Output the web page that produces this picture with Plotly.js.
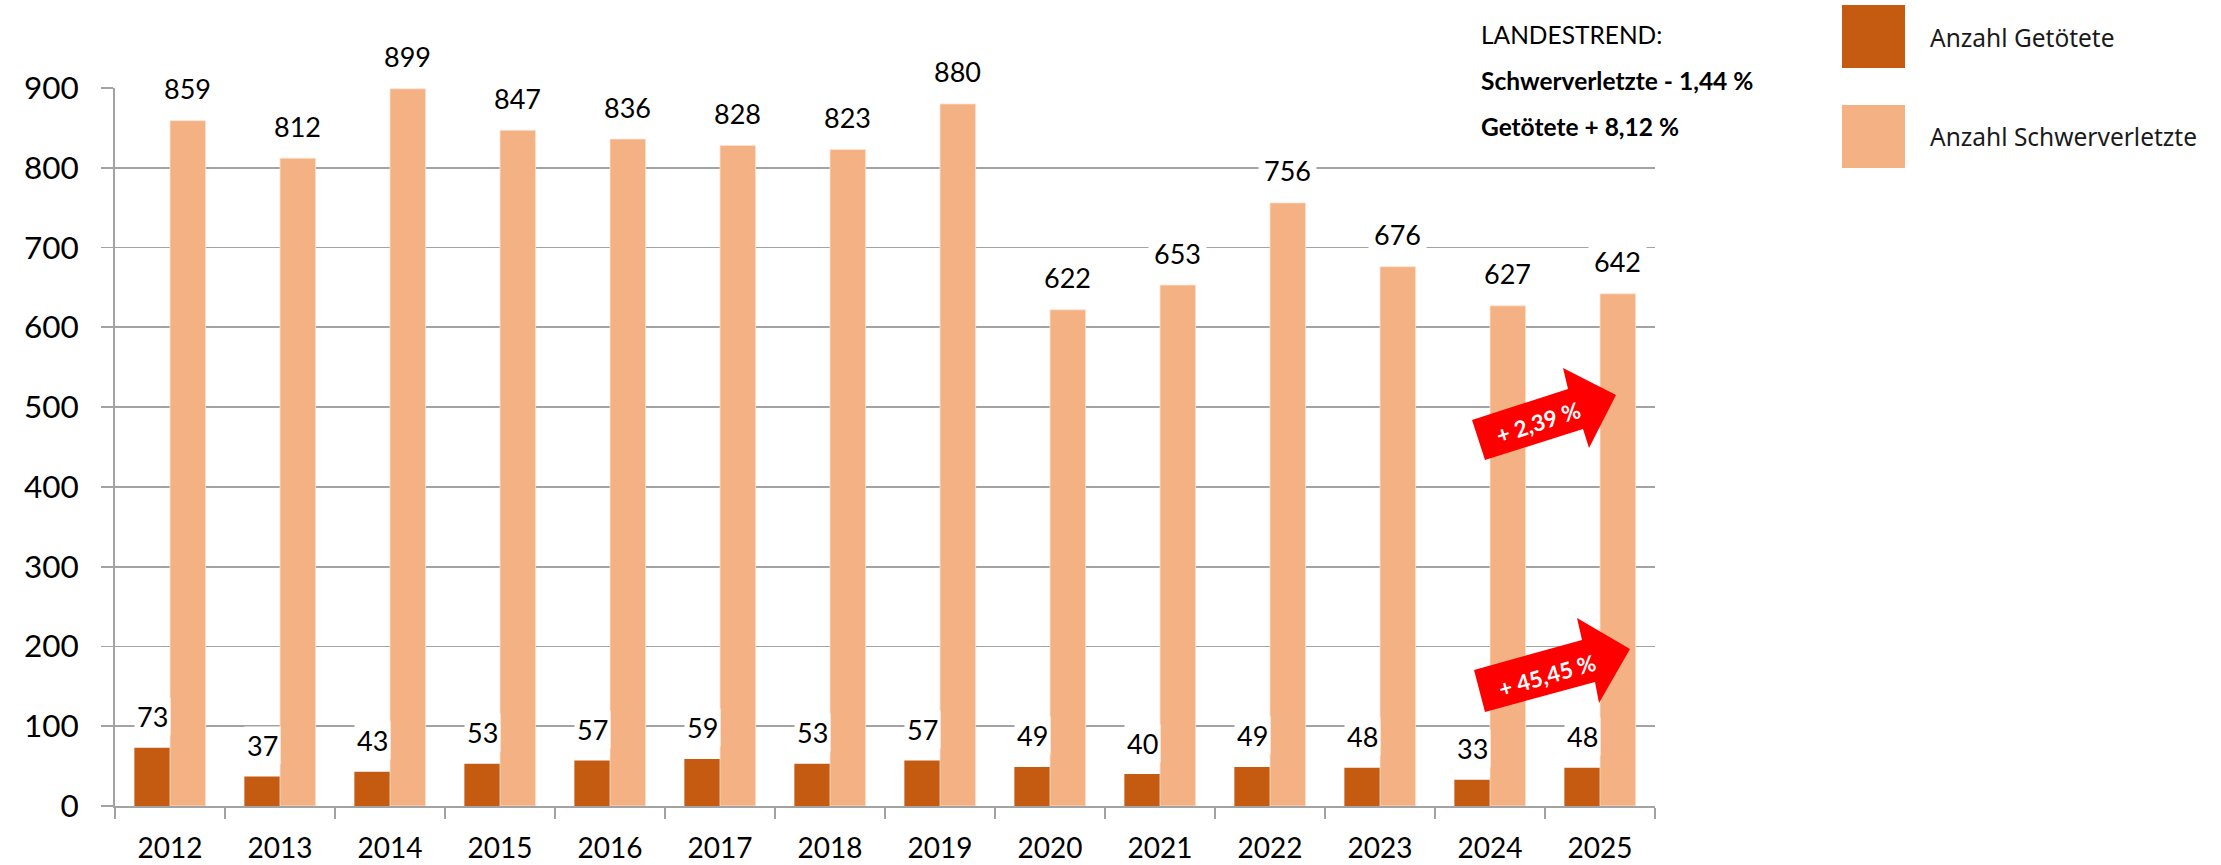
<!DOCTYPE html>
<html>
<head>
<meta charset="utf-8">
<script src="https://cdn.plot.ly/plotly-3.0.1.min.js"></script>
<style>html,body{margin:0;padding:0;background:#fff;}</style>
</head>
<body>
<div id="chart" style="width:2221px;height:865px;"></div>
<script>
// ---- data ----
const years = ['2012','2013','2014','2015','2016','2017','2018','2019','2020','2021','2022','2023','2024','2025'];
const getoetete = [73,37,43,53,57,59,53,57,49,40,49,48,33,48];
const schwerverletzte = [859,812,899,847,836,828,823,880,622,653,756,676,627,642];
const seriesNames = ['Anzahl Getötete','Anzahl Schwerverletzte'];
const trendLines = ['LANDESTREND:','<b>Schwerverletzte - 1,44 %</b>','<b>Getötete + 8,12 %</b>'];
const arrowTexts = ['<b>+ 2,39 %</b>','<b>+ 45,45 %</b>'];
const yTicks = [0,100,200,300,400,500,600,700,800,900];

// ---- style ----
const W = 2221, H = 865;
const M = {l:115, r:566, t:88, b:59};
const PW = W - M.l - M.r, PH = H - M.t - M.b;
const cDark = '#c55a11', cLight = '#f4b183', cGrid = '#a3a3a3';
const px = x => (x - M.l) / PW;
const py = y => (H - M.b - y) / PH;
function pathFrom(pts){ return 'M' + pts.map(p => px(p[0]) + ',' + py(p[1])).join(' L') + ' Z'; }

const traces = [
  {type:'bar', x:years, y:getoetete, name:seriesNames[0], marker:{color:cDark}, hoverinfo:'x+y'},
  {type:'bar', x:years, y:schwerverletzte, name:seriesNames[1], marker:{color:cLight, line:{color:'#fbe3d2', width:0.8}}, hoverinfo:'x+y'}
];

const bargap = 0.352;
const barPx = PW / years.length * (1 - bargap) / 2;
const labelFont = {family:'Lato, sans-serif', size:27, color:'#000'};
const annotations = [];
years.forEach((yr, i) => {
  // category axis: position by category index
  annotations.push({x:i, y:getoetete[i], xref:'x', yref:'y', text:String(getoetete[i]), showarrow:false,
    xshift:-barPx/2, yshift:31, yanchor:'middle', bgcolor:'#fff', borderpad:2, font:labelFont});
  annotations.push({x:i, y:schwerverletzte[i], xref:'x', yref:'y', text:String(schwerverletzte[i]), showarrow:false,
    xshift:barPx/2, yshift:32, yanchor:'middle', bgcolor:'#fff', borderpad:5, font:labelFont});
});

// Landestrend box
const trendY = [34, 81, 127];
trendLines.forEach((t, i) => {
  annotations.push({xref:'paper', yref:'paper', x:px(1479), y:py(trendY[i]), xanchor:'left', yanchor:'middle',
    text:t, showarrow:false, font:{family:'Lato, sans-serif', size:24.5, color:'#000'}});
});

// legend
const legY = [38, 137];
seriesNames.forEach((n, i) => {
  annotations.push({xref:'paper', yref:'paper', x:px(1928), y:py(legY[i]), xanchor:'left', yanchor:'middle',
    text:n, showarrow:false, font:{family:'Noto Sans, sans-serif', size:24.5, color:'#1a1a1a'}});
});

// arrow texts
const arrowTextPos = [[1538, 423, -18], [1547, 675, -16]];
arrowTexts.forEach((t, i) => {
  annotations.push({xref:'paper', yref:'paper', x:px(arrowTextPos[i][0]), y:py(arrowTextPos[i][1]),
    xanchor:'center', yanchor:'middle', textangle:arrowTextPos[i][2], text:t, showarrow:false,
    font:{family:'Lato, sans-serif', size:22.5, color:'#fff'}});
});

const arrow1 = [[1472,420],[1568,389],[1563,368],[1616,395],[1589,448],[1583,429],[1485,460]];
const arrow2 = [[1474,670],[1582,640],[1577,618],[1630,649],[1599,703],[1595,682],[1485,712]];

const shapes = [
  {type:'rect', xref:'paper', yref:'paper', x0:px(1458), x1:px(1760), y0:py(80), y1:py(97), fillcolor:'#fff', line:{width:0}, layer:'above'},
  {type:'path', xref:'paper', yref:'paper', path:pathFrom(arrow1), fillcolor:'#ff0000', line:{width:0}, layer:'above'},
  {type:'path', xref:'paper', yref:'paper', path:pathFrom(arrow2), fillcolor:'#ff0000', line:{width:0}, layer:'above'},
  {type:'rect', xref:'paper', yref:'paper', x0:px(1842), x1:px(1905), y0:py(68), y1:py(5), fillcolor:cDark, line:{width:0}},
  {type:'rect', xref:'paper', yref:'paper', x0:px(1842), x1:px(1905), y0:py(168), y1:py(105), fillcolor:cLight, line:{width:0}}
];

const layout = {
  width:W, height:H,
  margin:{l:M.l, r:M.r, t:M.t, b:M.b, autoexpand:false},
  paper_bgcolor:'#fff', plot_bgcolor:'#fff',
  barmode:'group', bargap:bargap, bargroupgap:0,
  showlegend:false,
  xaxis:{type:'category', range:[-0.5, years.length - 0.5], autorange:false, tickson:'boundaries', ticks:'outside', ticklen:11, tickwidth:1.8, tickcolor:cGrid,
    showline:true, linecolor:cGrid, linewidth:1.8, showgrid:false, zeroline:false,
    tickfont:{family:'Lato, sans-serif', size:28, color:'#000'}, ticklabelstandoff:17, fixedrange:true},
  yaxis:{range:[0,900], autorange:false, tickmode:'array', tickvals:yTicks, ticktext:yTicks.map(String), ticks:'outside', ticklen:12, tickwidth:1.8, tickcolor:cGrid,
    showline:true, linecolor:cGrid, linewidth:1.8, showgrid:true, gridcolor:cGrid, gridwidth:1.8, zeroline:false,
    tickfont:{family:'Lato, sans-serif', size:31.5, color:'#000'}, ticklabelstandoff:16, fixedrange:true},
  annotations:annotations,
  shapes:shapes
};

Plotly.newPlot('chart', traces, layout, {displayModeBar:false, staticPlot:true});
</script>
</body>
</html>
